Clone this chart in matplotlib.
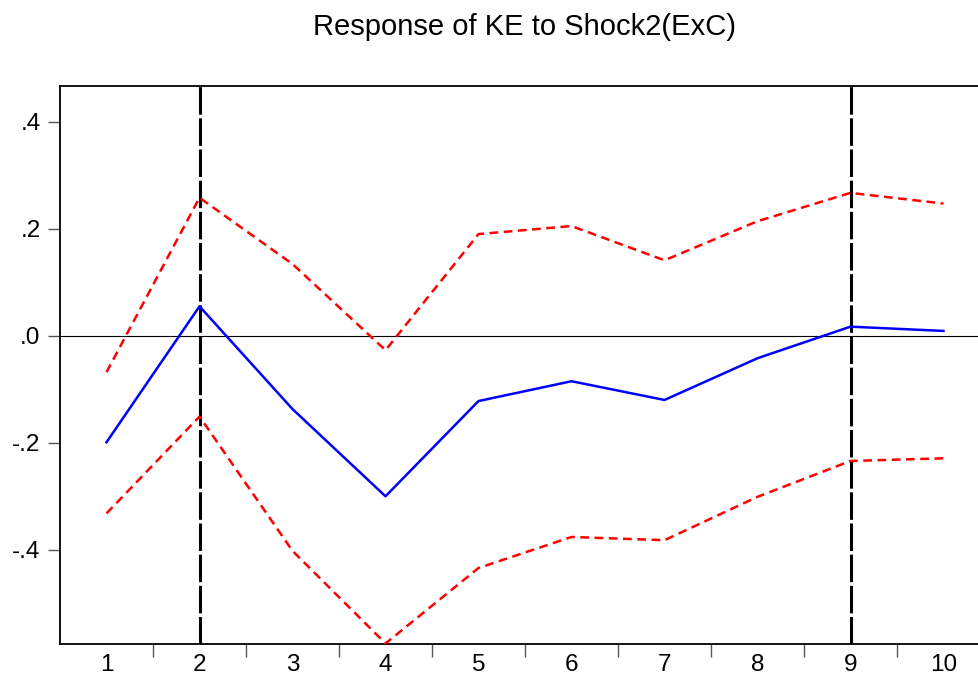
import matplotlib
matplotlib.use("Agg")
import matplotlib.pyplot as plt

plt.rcParams['font.family'] = ['Liberation Sans', 'DejaVu Sans']

# --- datos ---
periodos = [1, 2, 3, 4, 5, 6, 7, 8, 9, 10]
respuesta = [-0.199, 0.055, -0.137, -0.300, -0.122, -0.085, -0.120, -0.042, 0.017, 0.009]
banda_sup = [-0.068, 0.258, 0.134, -0.027, 0.190, 0.205, 0.141, 0.214, 0.267, 0.247]
banda_inf = [-0.332, -0.151, -0.402, -0.575, -0.434, -0.376, -0.382, -0.301, -0.234, -0.229]
lineas_v = [2, 9]
y_ticks = [-0.4, -0.2, 0.0, 0.2, 0.4]
y_labels = ["-.4", "-.2", ".0", ".2", ".4"]

fig = plt.figure(figsize=(9.79, 6.86), dpi=100)
# el eje derecho queda fuera de la imagen, como en el original
ax = fig.add_axes([60 / 979, 1 - 644 / 686, 930 / 979, 558 / 686])

ax.axhline(0, color='black', lw=0.8, zorder=1)
for xv in lineas_v:
    ax.axvline(xv, color='black', lw=2.2, dashes=(9, 1.2), zorder=2)

ax.plot(periodos, banda_sup, color='#ff0000', lw=1.8, dashes=(3.5, 2.2), zorder=3)
ax.plot(periodos, banda_inf, color='#ff0000', lw=1.8, dashes=(3.5, 2.2), zorder=3)
ax.plot(periodos, respuesta, color='#0000ff', lw=1.8, zorder=4)

ax.set_xlim(0.5, 10.5)
ax.set_ylim(-0.576, 0.4667)
ax.set_xticks([x + 0.5 for x in periodos])
ax.set_xticklabels([])
ax.set_xticks(periodos, minor=True)
ax.set_xticklabels([str(p) for p in periodos], minor=True)
ax.tick_params(axis='x', which='major', direction='out', length=9, width=1, color='#555555')
ax.tick_params(axis='x', which='minor', length=0, labelsize=17.5, pad=7)
ax.set_yticks(y_ticks)
ax.set_yticklabels(y_labels)
ax.tick_params(axis='y', direction='out', length=9, width=1, color='#555555', labelsize=17.5, pad=5)

for s in ['left', 'top', 'bottom']:
    ax.spines[s].set_linewidth(1.3)
ax.spines['right'].set_visible(False)

fig.text(525 / 979, 1 - 27 / 686, "Response of KE to Shock2(ExC)", ha='center', va='center', fontsize=21)

fig.savefig("out.png", dpi=100)
plt.close(fig)
